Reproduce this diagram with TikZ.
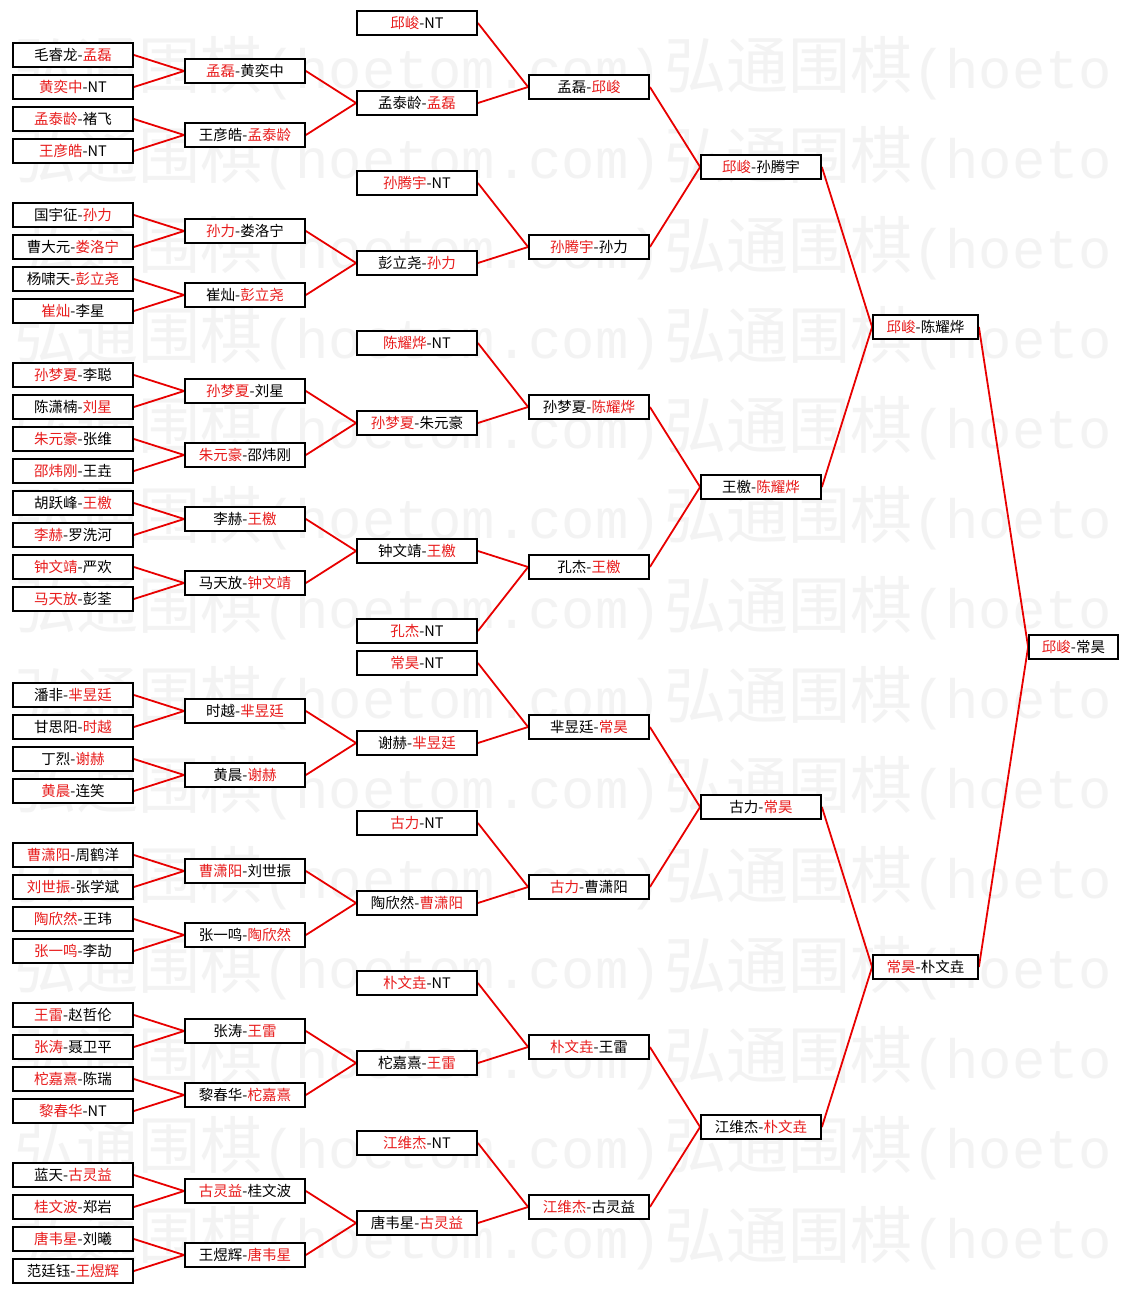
\documentclass[tikz,border=0pt]{standalone}
\usepackage{fontspec}
\newfontfamily\cjk{Noto Sans CJK SC}
\newfontfamily\wmlat{Liberation Mono}
\definecolor{tred}{RGB}{232,28,28}
\definecolor{lred}{RGB}{232,0,0}
\definecolor{wmgray}{RGB}{243,243,243}
\newcommand\R[1]{\textcolor{tred}{#1}}
\newcommand\wmA{{\cjk\fontsize{62}{62}\selectfont 弘通围棋}}
\pgfdeclarelayer{wmlayer}
\pgfdeclarelayer{linelayer}
\pgfsetlayers{wmlayer,linelayer,main}
\begin{document}
\begin{tikzpicture}[x=1pt,y=-1pt,
  box/.style={draw=black, line width=1.8pt, fill=white, minimum height=23.5pt,
    inner sep=0pt, text=black, font=\cjk\fontsize{14.5}{15}\selectfont},
  cw/.style={box, minimum width=120pt},
  cf/.style={box, minimum width=105pt},
  cg/.style={box, minimum width=89pt},
  conn/.style={draw=lred, line width=1.8pt},
  wmtext/.style={anchor=base west, inner sep=0pt, text=wmgray}]
\useasboundingbox (0,0) rectangle (1129,1293);

% watermark
\begin{pgfonlayer}{wmlayer}
\fill[white] (0,0) rectangle (1129,1293);
\foreach \k in {0,...,13}{
  \node[wmtext] (wma\k) at (14,{88+90*\k}) {\wmA{\wmlat\fontsize{55.5}{55.5}\selectfont (hoetom.com)}};
  \node[wmtext] (wmb\k) at (664,{88+90*\k}) {\wmA{\wmlat\fontsize{55.5}{55.5}\selectfont (hoeto}};
}
\end{pgfonlayer}

% column 1
\node[cw] (L1) at (73,55) {毛睿龙-\R{孟磊}};
\node[cw] (L2) at (73,87) {\R{黄奕中}-NT};
\node[cw] (L3) at (73,119) {\R{孟泰龄}-褚飞};
\node[cw] (L4) at (73,151) {\R{王彦皓}-NT};
\node[cw] (L5) at (73,215) {国宇征-\R{孙力}};
\node[cw] (L6) at (73,247) {曹大元-\R{娄洛宁}};
\node[cw] (L7) at (73,279) {杨啸天-\R{彭立尧}};
\node[cw] (L8) at (73,311) {\R{崔灿}-李星};
\node[cw] (L9) at (73,375) {\R{孙梦夏}-李聪};
\node[cw] (L10) at (73,407) {陈潇楠-\R{刘星}};
\node[cw] (L11) at (73,439) {\R{朱元豪}-张维};
\node[cw] (L12) at (73,471) {\R{邵炜刚}-王垚};
\node[cw] (L13) at (73,503) {胡跃峰-\R{王檄}};
\node[cw] (L14) at (73,535) {\R{李赫}-罗洗河};
\node[cw] (L15) at (73,567) {\R{钟文靖}-严欢};
\node[cw] (L16) at (73,599) {\R{马天放}-彭荃};
\node[cw] (L17) at (73,695) {潘非-\R{芈昱廷}};
\node[cw] (L18) at (73,727) {甘思阳-\R{时越}};
\node[cw] (L19) at (73,759) {丁烈-\R{谢赫}};
\node[cw] (L20) at (73,791) {\R{黄晨}-连笑};
\node[cw] (L21) at (73,855) {\R{曹潇阳}-周鹤洋};
\node[cw] (L22) at (73,887) {\R{刘世振}-张学斌};
\node[cw] (L23) at (73,919) {\R{陶欣然}-王玮};
\node[cw] (L24) at (73,951) {\R{张一鸣}-李劼};
\node[cw] (L25) at (73,1015) {\R{王雷}-赵哲伦};
\node[cw] (L26) at (73,1047) {\R{张涛}-聂卫平};
\node[cw] (L27) at (73,1079) {\R{柁嘉熹}-陈瑞};
\node[cw] (L28) at (73,1111) {\R{黎春华}-NT};
\node[cw] (L29) at (73,1175) {蓝天-\R{古灵益}};
\node[cw] (L30) at (73,1207) {\R{桂文波}-郑岩};
\node[cw] (L31) at (73,1239) {\R{唐韦星}-刘曦};
\node[cw] (L32) at (73,1271) {范廷钰-\R{王煜辉}};

% column 2
\node[cw] (M1) at (245,71) {\R{孟磊}-黄奕中};
\node[cw] (M2) at (245,135) {王彦皓-\R{孟泰龄}};
\node[cw] (M3) at (245,231) {\R{孙力}-娄洛宁};
\node[cw] (M4) at (245,295) {崔灿-\R{彭立尧}};
\node[cw] (M5) at (245,391) {\R{孙梦夏}-刘星};
\node[cw] (M6) at (245,455) {\R{朱元豪}-邵炜刚};
\node[cw] (M7) at (245,519) {李赫-\R{王檄}};
\node[cw] (M8) at (245,583) {马天放-\R{钟文靖}};
\node[cw] (M9) at (245,711) {时越-\R{芈昱廷}};
\node[cw] (M10) at (245,775) {黄晨-\R{谢赫}};
\node[cw] (M11) at (245,871) {\R{曹潇阳}-刘世振};
\node[cw] (M12) at (245,935) {张一鸣-\R{陶欣然}};
\node[cw] (M13) at (245,1031) {张涛-\R{王雷}};
\node[cw] (M14) at (245,1095) {黎春华-\R{柁嘉熹}};
\node[cw] (M15) at (245,1191) {\R{古灵益}-桂文波};
\node[cw] (M16) at (245,1255) {王煜辉-\R{唐韦星}};

% column 3
\node[cw] (N1) at (417,23) {\R{邱峻}-NT};
\node[cw] (N2) at (417,103) {孟泰龄-\R{孟磊}};
\node[cw] (N3) at (417,183) {\R{孙腾宇}-NT};
\node[cw] (N4) at (417,263) {彭立尧-\R{孙力}};
\node[cw] (N5) at (417,343) {\R{陈耀烨}-NT};
\node[cw] (N6) at (417,423) {\R{孙梦夏}-朱元豪};
\node[cw] (N7) at (417,551) {钟文靖-\R{王檄}};
\node[cw] (N8) at (417,631) {\R{孔杰}-NT};
\node[cw] (N9) at (417,663) {\R{常昊}-NT};
\node[cw] (N10) at (417,743) {谢赫-\R{芈昱廷}};
\node[cw] (N11) at (417,823) {\R{古力}-NT};
\node[cw] (N12) at (417,903) {陶欣然-\R{曹潇阳}};
\node[cw] (N13) at (417,983) {\R{朴文垚}-NT};
\node[cw] (N14) at (417,1063) {柁嘉熹-\R{王雷}};
\node[cw] (N15) at (417,1143) {\R{江维杰}-NT};
\node[cw] (N16) at (417,1223) {唐韦星-\R{古灵益}};

% column 4
\node[cw] (P1) at (589,87) {孟磊-\R{邱峻}};
\node[cw] (P2) at (589,247) {\R{孙腾宇}-孙力};
\node[cw] (P3) at (589,407) {孙梦夏-\R{陈耀烨}};
\node[cw] (P4) at (589,567) {孔杰-\R{王檄}};
\node[cw] (P5) at (589,727) {芈昱廷-\R{常昊}};
\node[cw] (P6) at (589,887) {\R{古力}-曹潇阳};
\node[cw] (P7) at (589,1047) {\R{朴文垚}-王雷};
\node[cw] (P8) at (589,1207) {\R{江维杰}-古灵益};

% column 5
\node[cw] (Q1) at (761,167) {\R{邱峻}-孙腾宇};
\node[cw] (Q2) at (761,487) {王檄-\R{陈耀烨}};
\node[cw] (Q3) at (761,807) {古力-\R{常昊}};
\node[cw] (Q4) at (761,1127) {江维杰-\R{朴文垚}};

% column 6
\node[cf] (S1) at (925.5,327) {\R{邱峻}-陈耀烨};
\node[cf] (S2) at (925.5,967) {\R{常昊}-朴文垚};

% final
\node[cg] (F) at (1073.5,647) {\R{邱峻}-常昊};

% connectors
\begin{pgfonlayer}{linelayer}
\foreach \a/\b in {L1/M1,L2/M1,L3/M2,L4/M2,L5/M3,L6/M3,L7/M4,L8/M4,
  L9/M5,L10/M5,L11/M6,L12/M6,L13/M7,L14/M7,L15/M8,L16/M8,
  L17/M9,L18/M9,L19/M10,L20/M10,L21/M11,L22/M11,L23/M12,L24/M12,
  L25/M13,L26/M13,L27/M14,L28/M14,L29/M15,L30/M15,L31/M16,L32/M16,
  M1/N2,M2/N2,M3/N4,M4/N4,M5/N6,M6/N6,M7/N7,M8/N7,
  M9/N10,M10/N10,M11/N12,M12/N12,M13/N14,M14/N14,M15/N16,M16/N16,
  N1/P1,N2/P1,N3/P2,N4/P2,N5/P3,N6/P3,N7/P4,N8/P4,
  N9/P5,N10/P5,N11/P6,N12/P6,N13/P7,N14/P7,N15/P8,N16/P8,
  P1/Q1,P2/Q1,P3/Q2,P4/Q2,P5/Q3,P6/Q3,P7/Q4,P8/Q4,
  Q1/S1,Q2/S1,Q3/S2,Q4/S2,S1/F,S2/F}
  \draw[conn] (\a.east) -- (\b.west);
\end{pgfonlayer}
\end{tikzpicture}
\end{document}
